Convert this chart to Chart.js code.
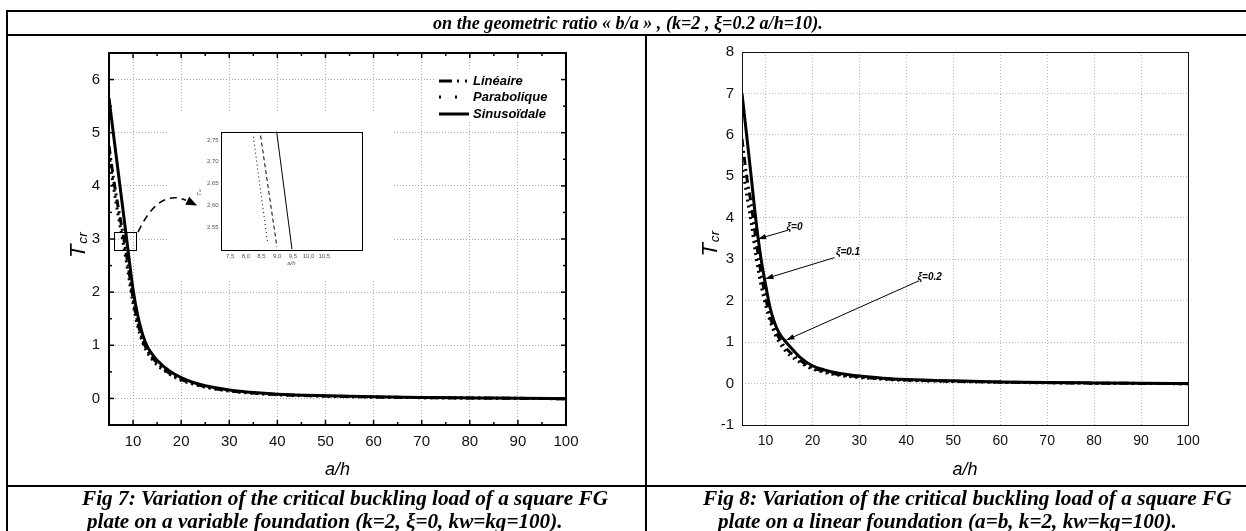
<!DOCTYPE html>
<html>
<head>
<meta charset="utf-8">
<script src="https://cdn.jsdelivr.net/npm/chart.js@4.4.1/dist/chart.umd.min.js"></script>
<style>
html,body{margin:0;padding:0;background:#fff;}
body{width:1246px;height:531px;overflow:hidden;position:relative;}
canvas{position:absolute;}
.txt{position:absolute;font-family:"Liberation Serif","Times New Roman",serif;font-weight:bold;font-style:italic;white-space:nowrap;line-height:1;color:#000;margin:0;}
</style>
</head>
<body>
<canvas id="frame" width="1246" height="531" style="left:0;top:0"></canvas>
<canvas id="fig7" width="640" height="451" style="left:6px;top:35px"></canvas>
<canvas id="inset7" width="180" height="146" style="left:190px;top:126px"></canvas>
<canvas id="fig8" width="600" height="451" style="left:646px;top:35px"></canvas>
<div class="txt" id="title"></div>
<div class="txt" id="cap7a"></div>
<div class="txt" id="cap7b"></div>
<div class="txt" id="cap8a"></div>
<div class="txt" id="cap8b"></div>
<script>
// ---------------- data ----------------
const aOverH = [5, 6, 7, 8, 9, 10, 11, 12, 13, 14, 15, 17.5, 20, 22.5, 25, 30, 35, 40, 50, 60, 70, 80, 90, 100];
// Fig 7
const lineaire7    = [4.75, 4.10, 3.55, 3.05, 2.50, 1.88, 1.42, 1.10, 0.90, 0.77, 0.67, 0.48, 0.36, 0.28, 0.22, 0.145, 0.10, 0.072, 0.045, 0.027, 0.015, 0.008, 0.002, -0.006];
const parabolique7 = [4.60, 3.95, 3.40, 2.90, 2.35, 1.78, 1.35, 1.05, 0.86, 0.73, 0.63, 0.46, 0.34, 0.27, 0.21, 0.14, 0.095, 0.07, 0.043, 0.026, 0.014, 0.007, 0.001, -0.007];
const sinusoidale7 = [5.65, 4.92, 4.20, 3.48, 2.76, 2.05, 1.55, 1.20, 0.97, 0.83, 0.72, 0.52, 0.39, 0.30, 0.24, 0.16, 0.11, 0.08, 0.05, 0.03, 0.018, 0.01, 0.003, -0.005];
// Fig 8
const xi0_8  = [5.90, 5.00, 4.30, 3.45, 2.70, 2.10, 1.60, 1.30, 1.08, 0.90, 0.78, 0.55, 0.38, 0.30, 0.23, 0.16, 0.115, 0.085, 0.055, 0.035, 0.02, 0.01, 0.004, -0.003];
const xi01_8 = [5.30, 4.55, 3.85, 3.05, 2.40, 1.90, 1.50, 1.20, 0.98, 0.82, 0.70, 0.50, 0.35, 0.27, 0.21, 0.145, 0.105, 0.078, 0.05, 0.03, 0.018, 0.009, 0.003, -0.004];
const xi02_8 = [7.00, 5.98, 4.95, 3.90, 3.05, 2.40, 1.82, 1.45, 1.20, 1.05, 0.92, 0.62, 0.43, 0.33, 0.26, 0.18, 0.13, 0.10, 0.065, 0.04, 0.025, 0.015, 0.006, 0.0];
// inset of Fig 7
const insetLineaireX = [8.47, 8.99];      const insetLineaireY = [2.76, 2.505];
const insetParaboliqueX = [8.24, 8.70];   const insetParaboliqueY = [2.757, 2.512];
const insetSinusoidaleX = [8.98, 9.47];   const insetSinusoidaleY = [2.77, 2.50];
// tick labels
const xTicks = [10, 20, 30, 40, 50, 60, 70, 80, 90, 100];
const xMinorTicks = [5, 15, 25, 35, 45, 55, 65, 75, 85, 95];
const yTicks7 = [0, 1, 2, 3, 4, 5, 6];
const yMinorTicks7 = [-0.5, 0.5, 1.5, 2.5, 3.5, 4.5, 5.5, 6.5];
const yTicks8 = [-1, 0, 1, 2, 3, 4, 5, 6, 7, 8];
const insetXTicks = [7.5, 8, 8.5, 9, 9.5, 10, 10.5];
const insetYTicks = [2.55, 2.6, 2.65, 2.7, 2.75];
const seriesNames7 = ['Linéaire', 'Parabolique', 'Sinusoïdale'];
const seriesNames8 = ['ξ=0', 'ξ=0.1', 'ξ=0.2'];

// annotations (data units)
const zoomBox7 = {x0: 6.04, x1: 10.7, y0: 2.79, y1: 3.13};
const zoomArrow7 = {start: [11.04, 3.13], ctrl: [15.3, 3.95], end: [21.0, 3.73], tip: [23.33, 3.63]};
const xiNotes8 = [
  {label: 'ξ=0',   at: [14.5, 3.78], tail: [14.8, 3.70], tip: [8.43, 3.49]},
  {label: 'ξ=0.1', at: [25.0, 3.18], tail: [24.7, 3.04], tip: [10.0, 2.53]},
  {label: 'ξ=0.2', at: [42.4, 2.57], tail: [42.7, 2.48], tip: [14.47, 1.05]}
];

// ---------------- helpers ----------------
const SANS = "'Liberation Sans', Arial, sans-serif";
const pts = (xs, ys) => xs.map((x, i) => ({x, y: ys[i]}));
function ds(label, xs, ys, dash, width) {
  return {label, data: pts(xs, ys), borderColor: '#000', backgroundColor: '#000', borderWidth: width,
    borderDash: dash, pointRadius: 0, pointHoverRadius: 0, fill: false, cubicInterpolationMode: 'monotone',
    borderCapStyle: 'butt', borderJoinStyle: 'round'};
}
function arrowHead(ctx, fx, fy, tx, ty, len, half) {
  const ang = Math.atan2(ty - fy, tx - fx);
  ctx.beginPath();
  ctx.moveTo(tx, ty);
  ctx.lineTo(tx - len * Math.cos(ang) + half * Math.sin(ang), ty - len * Math.sin(ang) - half * Math.cos(ang));
  ctx.lineTo(tx - len * Math.cos(ang) - half * Math.sin(ang), ty - len * Math.sin(ang) + half * Math.cos(ang));
  ctx.closePath();
  ctx.fill();
}
// rotated "T" with subscript "cr"; (bx, cy) = baseline x, vertical centre
function drawTcr(ctx, bx, cy, size, color) {
  ctx.save();
  ctx.translate(bx, cy);
  ctx.rotate(-Math.PI / 2);
  ctx.fillStyle = color;
  ctx.textBaseline = 'alphabetic';
  const sub = size * 0.62;
  ctx.font = `italic ${size}px ${SANS}`;
  const wT = ctx.measureText('T').width;
  ctx.font = `italic ${sub}px ${SANS}`;
  const wS = ctx.measureText('cr').width;
  const x0 = -(wT + wS) / 2;
  ctx.font = `italic ${size}px ${SANS}`;
  ctx.fillText('T', x0, 0);
  ctx.font = `italic ${sub}px ${SANS}`;
  ctx.fillText('cr', x0 + wT, size * 0.08);
  ctx.restore();
}

const decor = {
  id: 'decor',
  beforeDatasetsDraw(chart, args, o) {
    const {ctx, chartArea: a} = chart;
    if (o.covers) {
      ctx.save(); ctx.fillStyle = '#fff';
      o.covers.forEach(r => ctx.fillRect(a.left + r[0], a.top + r[1], r[2], r[3]));
      ctx.restore();
    }
  },
  afterDatasetsDraw(chart, args, o) {
    const {ctx, chartArea: a, scales: {x, y}} = chart;
    const P = (p) => [x.getPixelForValue(p[0]), y.getPixelForValue(p[1])];
    if (o.legend) {
      const L = o.legend;
      ctx.save();
      chart.data.datasets.forEach((d, i) => {
        const yy = a.top + L.rows[i];
        ctx.strokeStyle = '#000'; ctx.lineWidth = 3;
        ctx.setLineDash(L.dashes[i]);
        ctx.beginPath(); ctx.moveTo(a.right - L.sample[0], yy); ctx.lineTo(a.right - L.sample[1], yy); ctx.stroke();
        ctx.setLineDash([]);
        ctx.fillStyle = '#000';
        ctx.font = `italic bold 13px ${SANS}`;
        ctx.textBaseline = 'middle';
        ctx.fillText(d.label, a.right - L.textRight, yy);
      });
      ctx.restore();
    }
    if (o.zoomBox) {
      const b = o.zoomBox;
      const p0 = P([b.x0, b.y1]), p1 = P([b.x1, b.y0]);
      ctx.save();
      ctx.strokeStyle = '#000'; ctx.lineWidth = 1;
      ctx.strokeRect(Math.round(p0[0]) + 0.5, Math.round(p0[1]) + 0.5, Math.round(p1[0] - p0[0]), Math.round(p1[1] - p0[1]));
      const s = P(o.zoomArrow.start), c = P(o.zoomArrow.ctrl), e = P(o.zoomArrow.end), t = P(o.zoomArrow.tip);
      ctx.setLineDash([7, 5]); ctx.lineWidth = 1.5;
      ctx.beginPath(); ctx.moveTo(s[0], s[1]); ctx.quadraticCurveTo(c[0], c[1], e[0], e[1]); ctx.stroke();
      ctx.setLineDash([]);
      ctx.fillStyle = '#000';
      arrowHead(ctx, e[0], e[1], t[0], t[1], 11, 4.5);
      ctx.restore();
    }
    if (o.notes) {
      ctx.save();
      ctx.strokeStyle = '#000'; ctx.fillStyle = '#000'; ctx.lineWidth = 1;
      o.notes.forEach(n => {
        const s = P(n.tail), t = P(n.tip), l = P(n.at);
        ctx.beginPath(); ctx.moveTo(s[0], s[1]); ctx.lineTo(t[0], t[1]); ctx.stroke();
        arrowHead(ctx, s[0], s[1], t[0], t[1], 8, 2.8);
        ctx.font = `italic bold 10px ${SANS}`;
        ctx.textBaseline = 'middle';
        ctx.fillText(n.label, l[0], l[1]);
      });
      ctx.restore();
    }
  },
  afterDraw(chart, args, o) {
    const {ctx, chartArea: a, scales: {x, y}} = chart;
    ctx.save();
    if (o.ticks) {
      const T = o.ticks;
      ctx.strokeStyle = '#000'; ctx.lineWidth = T.width;
      const seg = (x1, y1, x2, y2) => { ctx.beginPath(); ctx.moveTo(x1, y1); ctx.lineTo(x2, y2); ctx.stroke(); };
      T.xMajor.forEach(v => { const p = x.getPixelForValue(v); seg(p, a.bottom, p, a.bottom - T.major); seg(p, a.top, p, a.top + T.major); });
      T.xMinor.forEach(v => { const p = x.getPixelForValue(v); seg(p, a.bottom, p, a.bottom - T.minor); seg(p, a.top, p, a.top + T.minor); });
      T.yMajor.forEach(v => { const p = y.getPixelForValue(v); seg(a.left, p, a.left + T.major, p); seg(a.right, p, a.right - T.major, p); });
      T.yMinor.forEach(v => { const p = y.getPixelForValue(v); seg(a.left, p, a.left + T.minor, p); seg(a.right, p, a.right - T.minor, p); });
    }
    ctx.strokeStyle = o.frameColor || '#000';
    ctx.lineWidth = o.frameWidth;
    const off = o.frameWidth % 2 === 1 ? 0.5 : 0;
    ctx.strokeRect(Math.round(a.left) + off, Math.round(a.top) + off, Math.round(a.right - a.left), Math.round(a.bottom - a.top));
    if (o.xTitle) {
      ctx.fillStyle = o.titleColor || '#000';
      ctx.font = `italic ${o.xTitle.size}px ${SANS}`;
      ctx.textAlign = 'center'; ctx.textBaseline = 'middle';
      ctx.fillText(o.xTitle.text, (a.left + a.right) / 2, a.bottom + o.xTitle.dy);
    }
    if (o.yTitle) drawTcr(ctx, a.left - o.yTitle.dx, (a.top + a.bottom) / 2 + (o.yTitle.dy || 0), o.yTitle.size, o.titleColor || '#000');
    ctx.restore();
  }
};
Chart.register(decor);

// ---------------- Fig 7 ----------------
new Chart(document.getElementById('fig7'), {
  type: 'line',
  data: {datasets: [
    ds(seriesNames7[0], aOverH, lineaire7, [8, 4, 2, 4], 3),
    ds(seriesNames7[1], aOverH, parabolique7, [2, 4], 3),
    ds(seriesNames7[2], aOverH, sinusoidale7, [], 3)
  ]},
  options: {
    responsive: false, animation: false, events: [],
    layout: {padding: {left: 0, right: 80, top: 15, bottom: 0}},
    plugins: {
      legend: {display: false}, tooltip: {enabled: false},
      decor: {
        frameWidth: 2,
        ticks: {xMajor: xTicks, xMinor: xMinorTicks, yMajor: yTicks7, yMinor: yMinorTicks7, major: 5, minor: 3, width: 1.5},
        covers: [[58, 58, 226, 168], [327, 17, 130, 52]],
        legend: {rows: [28, 44, 61], sample: [127, 97], textRight: 93, dashes: [[13, 5, 2, 6, 2, 40], [2, 14], []]},
        zoomBox: zoomBox7, zoomArrow: zoomArrow7,
        xTitle: {text: 'a/h', size: 18, dy: 45},
        yTitle: {dx: 24, size: 22, dy: 0}
      }
    },
    scales: {
      x: {type: 'linear', min: 5, max: 100,
        afterFit: s => { s.height = 61; },
        afterBuildTicks: s => { s.ticks = xTicks.map(v => ({value: v})); },
        grid: {color: '#a8a8a8', lineWidth: 1, drawTicks: false},
        border: {display: false, dash: [1, 2]},
        ticks: {padding: 8, autoSkip: false, maxRotation: 0, color: '#111', font: {family: SANS, size: 15}}},
      y: {type: 'linear', min: -0.5, max: 6.5,
        afterFit: s => { s.width = 103; },
        afterBuildTicks: s => { s.ticks = yTicks7.map(v => ({value: v})); },
        grid: {color: '#a8a8a8', lineWidth: 1, drawTicks: false},
        border: {display: false, dash: [1, 2]},
        ticks: {padding: 9, color: '#111', font: {family: SANS, size: 15}}}
    }
  }
});

// ---------------- inset of Fig 7 ----------------
new Chart(document.getElementById('inset7'), {
  type: 'line',
  data: {datasets: [
    ds(seriesNames7[0], insetLineaireX, insetLineaireY, [4, 3], 1),
    ds(seriesNames7[1], insetParaboliqueX, insetParaboliqueY, [1, 3], 1),
    ds(seriesNames7[2], insetSinusoidaleX, insetSinusoidaleY, [], 1)
  ]},
  options: {
    responsive: false, animation: false, events: [],
    layout: {padding: {left: 0, right: 8, top: 4.7, bottom: 0}},
    plugins: {
      legend: {display: false}, tooltip: {enabled: false},
      decor: {frameWidth: 1, titleColor: '#555',
        xTitle: {text: 'a/h', size: 6, dy: 13},
        yTitle: {dx: 20, size: 6, dy: 0}}
    },
    scales: {
      x: {type: 'linear', min: 7.2, max: 11.7,
        afterFit: s => { s.height = 22; },
        afterBuildTicks: s => { s.ticks = insetXTicks.map(v => ({value: v})); },
        grid: {display: false, drawTicks: false}, border: {display: false},
        ticks: {padding: 3, autoSkip: false, maxRotation: 0, color: '#555', font: {family: SANS, size: 6},
          callback: v => v.toFixed(1).replace('.', ',')}},
      y: {type: 'linear', min: 2.498, max: 2.769,
        afterFit: s => { s.width = 30.7; },
        afterBuildTicks: s => { s.ticks = insetYTicks.map(v => ({value: v})); },
        grid: {display: false, drawTicks: false}, border: {display: false},
        ticks: {padding: 2, color: '#555', font: {family: SANS, size: 6},
          callback: v => v.toFixed(2).replace('.', ',')}}
    }
  }
});

// ---------------- Fig 8 ----------------
new Chart(document.getElementById('fig8'), {
  type: 'line',
  data: {datasets: [
    ds(seriesNames8[0], aOverH, xi0_8, [8, 4, 2, 4], 3),
    ds(seriesNames8[1], aOverH, xi01_8, [2, 4], 3),
    ds(seriesNames8[2], aOverH, xi02_8, [], 3)
  ]},
  options: {
    responsive: false, animation: false, events: [],
    layout: {padding: {left: 0, right: 58, top: 16.5, bottom: 0}},
    plugins: {
      legend: {display: false}, tooltip: {enabled: false},
      decor: {
        frameWidth: 1, frameColor: '#111',
        notes: xiNotes8,
        xTitle: {text: 'a/h', size: 18, dy: 45},
        yTitle: {dx: 25, size: 22, dy: -1}
      }
    },
    scales: {
      x: {type: 'linear', min: 5, max: 100,
        afterFit: s => { s.height = 61; },
        afterBuildTicks: s => { s.ticks = xTicks.map(v => ({value: v})); },
        grid: {color: '#b8b8b8', lineWidth: 1, drawTicks: false},
        border: {display: false, dash: [1, 2]},
        ticks: {padding: 8, autoSkip: false, maxRotation: 0, color: '#111', font: {family: SANS, size: 14}}},
      y: {type: 'linear', min: -1, max: 8,
        afterFit: s => { s.width = 96; },
        afterBuildTicks: s => { s.ticks = yTicks8.map(v => ({value: v})); },
        grid: {color: '#b8b8b8', lineWidth: 1, drawTicks: false},
        border: {display: false, dash: [1, 2]},
        ticks: {padding: 8, color: '#111', font: {family: SANS, size: 15}}}
    }
  }
});

// ---------------- table frame and captions ----------------
(function () {
  const c = document.getElementById('frame').getContext('2d');
  c.fillStyle = '#000';
  c.fillRect(6, 10, 1240, 2);
  c.fillRect(6, 10, 2, 521);
  c.fillRect(6, 34, 1240, 2);
  c.fillRect(645, 34, 2, 497);
  c.fillRect(6, 485, 1240, 2);

  const m = document.createElement('canvas').getContext('2d');
  function place(id, text, left, width, baseline) {
    m.font = "italic bold 100px 'Liberation Serif'";
    const size = 100 * width / m.measureText(text).width;
    const el = document.getElementById(id);
    el.textContent = text;
    el.style.fontSize = size + 'px';
    el.style.left = left + 'px';
    el.style.top = (baseline - 0.8375 * size) + 'px';
  }
  place('title', 'on the geometric ratio « b/a » , (k=2 , ξ=0.2 a/h=10).', 433, 390, 29);
  place('cap7a', 'Fig 7: Variation of the critical buckling load of a square FG', 82, 526, 506);
  place('cap7b', 'plate on a variable foundation (k=2, ξ=0, kw=kg=100).', 87, 476, 529);
  place('cap8a', 'Fig 8: Variation of the critical buckling load of a square FG', 703, 529, 506);
  place('cap8b', 'plate on a linear foundation (a=b, k=2, kw=kg=100).', 718, 459, 529);
})();
</script>
</body>
</html>
